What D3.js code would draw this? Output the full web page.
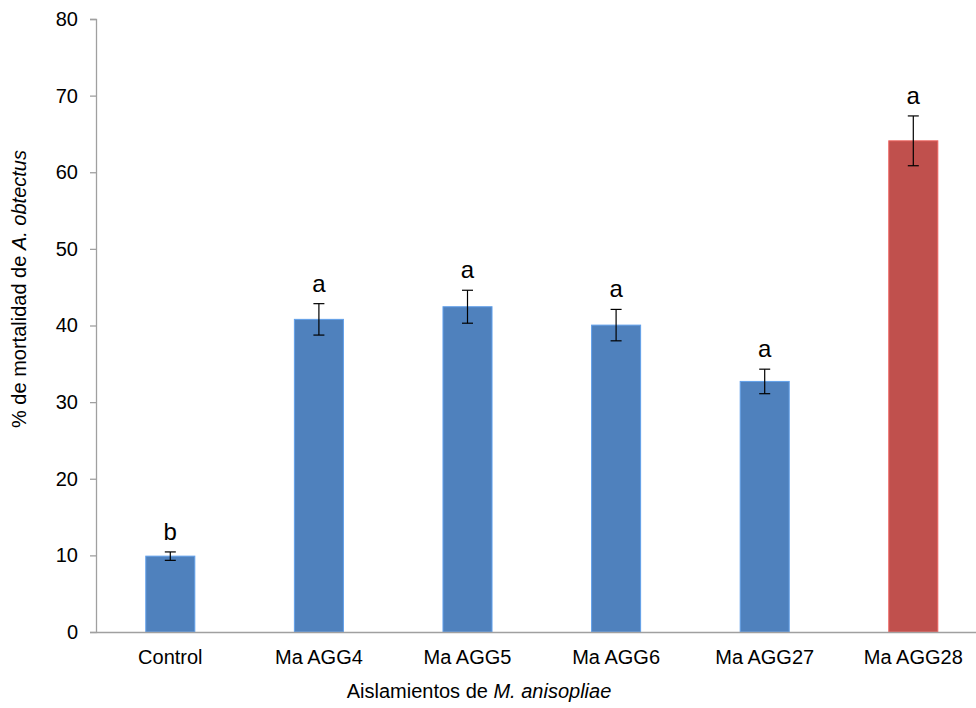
<!DOCTYPE html>
<html>
<head>
<meta charset="utf-8">
<script src="https://cdn.jsdelivr.net/npm/d3@7"></script>
<style>
  body { margin: 0; background: #fff; }
  svg { display: block; font-family: "Liberation Sans", Arial, sans-serif; }
</style>
</head>
<body>
<svg id="chart" width="976" height="708"></svg>
<script>
const categories = ["Control", "Ma AGG4", "Ma AGG5", "Ma AGG6", "Ma AGG27", "Ma AGG28"];
const values = [9.9, 40.8, 42.45, 40.05, 32.7, 64.1];
const errors = [0.55, 2.05, 2.15, 2.05, 1.6, 3.25];
const letters = ["b", "a", "a", "a", "a", "a"];
const colors = ["#4f81bd", "#4f81bd", "#4f81bd", "#4f81bd", "#4f81bd", "#c0504d"];
const yTicks = [0, 10, 20, 30, 40, 50, 60, 70, 80];

(function () {
const svg = d3.select("#chart");
const mLeft = 96, mTop = 19, mBottom = 632, mRight = 987.6;

const x = d3.scaleBand().domain(categories).range([mLeft, mRight]).padding(0);
const y = d3.scaleLinear().domain([0, 80]).range([mBottom, mTop]);
const barW = x.bandwidth() * 0.33;
const axisColor = "#a0a0a0";

// Y axis
const yAxis = d3.axisLeft(y).tickValues(yTicks).tickSize(6).tickPadding(12);
const gy = svg.append("g").attr("transform", `translate(${mLeft},0)`).call(yAxis);
gy.select(".domain").attr("stroke", axisColor).attr("stroke-width", 1.3);
gy.selectAll(".tick line").attr("stroke", axisColor).attr("stroke-width", 1.3);
gy.selectAll(".tick text").attr("font-size", 20).attr("fill", "#000")
  .attr("font-family", "Liberation Sans, Arial, sans-serif");

// Bars
const data = categories.map((c, i) => ({ c, v: values[i], e: errors[i], l: letters[i], col: colors[i] }));
const cx = d => x(d.c) + x.bandwidth() / 2;

svg.append("g").selectAll("rect").data(data).join("rect")
  .attr("x", d => cx(d) - barW / 2)
  .attr("y", d => y(d.v))
  .attr("width", barW)
  .attr("height", d => y(0) - y(d.v))
  .attr("fill", d => d.col)
  .attr("stroke", d => d3.color(d.col).brighter(0.6))
  .attr("stroke-width", 1);

// X axis (no ticks)
const xAxis = d3.axisBottom(x).tickSize(0).tickPadding(18);
const gx = svg.append("g").attr("transform", `translate(0,${mBottom})`).call(xAxis);
gx.select(".domain").attr("stroke", axisColor).attr("stroke-width", 1.3);
gx.selectAll(".tick text").attr("font-size", 20).attr("fill", "#000")
  .attr("font-family", "Liberation Sans, Arial, sans-serif");

// Error bars
const eb = svg.append("g").attr("stroke", "#000").attr("stroke-width", 1.2);
data.forEach(d => {
  const c = cx(d);
  eb.append("line").attr("x1", c).attr("x2", c).attr("y1", y(d.v + d.e)).attr("y2", y(d.v - d.e));
  eb.append("line").attr("x1", c - 5.5).attr("x2", c + 5.5).attr("y1", y(d.v + d.e)).attr("y2", y(d.v + d.e));
  eb.append("line").attr("x1", c - 5.5).attr("x2", c + 5.5).attr("y1", y(d.v - d.e)).attr("y2", y(d.v - d.e));
});

// Letters
svg.append("g").selectAll("text").data(data).join("text")
  .attr("x", cx)
  .attr("y", d => y(d.v + d.e) - 12)
  .attr("text-anchor", "middle")
  .attr("font-size", 24)
  .attr("fill", "#000")
  .text(d => d.l);

// X axis title
const xt = svg.append("text").attr("x", 479).attr("y", 698).attr("text-anchor", "middle")
  .attr("font-size", 20).attr("fill", "#000");
xt.append("tspan").text("Aislamientos de ");
xt.append("tspan").attr("font-style", "italic").text("M. anisopliae");

// Y axis title
const yt = svg.append("text").attr("transform", "translate(26,289) rotate(-90)")
  .attr("text-anchor", "middle").attr("font-size", 20).attr("fill", "#000");
yt.append("tspan").text("% de mortalidad de ");
yt.append("tspan").attr("font-style", "italic").text("A. obtectus");
})();
</script>
</body>
</html>
